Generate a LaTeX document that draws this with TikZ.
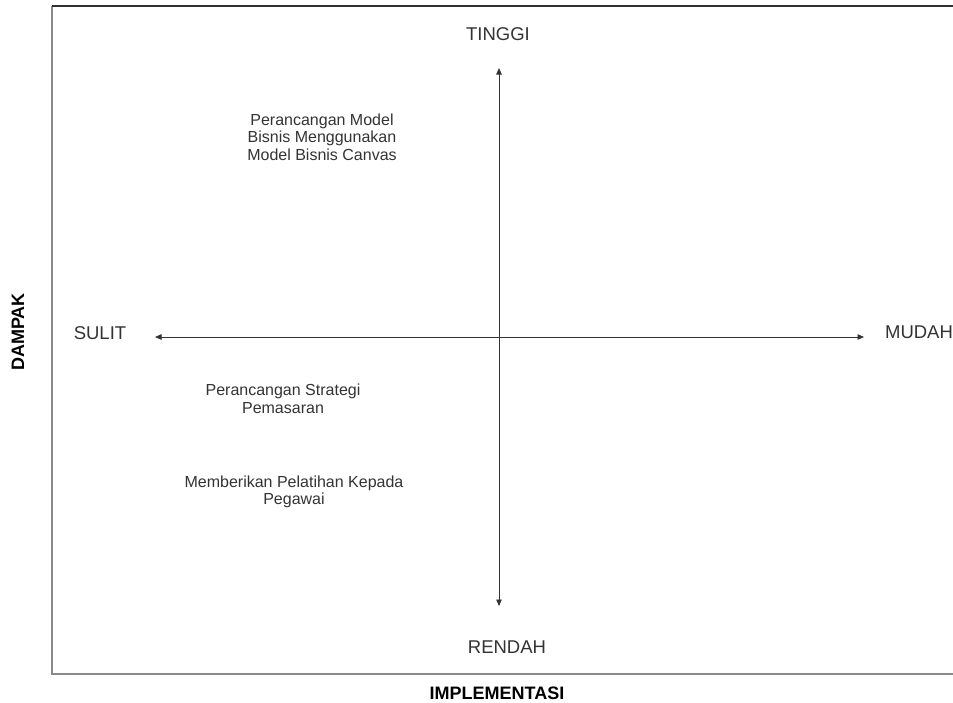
\documentclass[tikz,border=0pt]{standalone}
\usepackage{fontspec}
\setmainfont{Liberation Sans}
\usetikzlibrary{arrows.meta, positioning}
\usepackage{xcolor}
\definecolor{framegray}{HTML}{8A8A8A}
\definecolor{framedark}{HTML}{303030}
\definecolor{inkgray}{HTML}{333333}

\begin{document}
\begin{tikzpicture}[
    x=1pt, y=-1pt,
    axislabel/.style={font=\fontsize{18.5}{20}\selectfont, text=inkgray, inner sep=0pt},
    title/.style={font=\fontsize{18}{20}\selectfont\bfseries, inner sep=0pt},
    item/.style={font=\fontsize{16}{17.5}\selectfont, align=center, text=inkgray, inner sep=0pt},
    arr/.style={{Triangle[length=6.5pt,width=5.5pt]}-{Triangle[length=6.5pt,width=5.5pt]}, line width=0.8pt, inkgray},
]
\useasboundingbox (0,0) rectangle (953,702);

% frame
\draw[framegray, line width=1.5pt] (52,6) -- (52,674) -- (960,674);
\draw[framedark, line width=1.3pt] (52,6) -- (960,6);

% axis labels
\node[axislabel] (tinggi) at (498,34) {TINGGI};
\node[axislabel] (rendah) at (507,647) {RENDAH};
\node[axislabel] (sulit) at (100,333) {SULIT};
\node[axislabel] (mudah) at (919,332) {MUDAH};

\node[title] (impl) at (497,693) {IMPLEMENTASI};
\node[title, rotate=90] (dampak) at (18,332) {DAMPAK};

% axes
\coordinate (ytop) at (499,68);
\coordinate (ybot) at (499,606);
\coordinate (xleft) at (155,337);
\coordinate (xright) at (864,337);
\draw[arr] (ybot) -- (ytop);
\draw[arr] (xleft) -- (xright);

% items
\node[item] (bmc) at (322,137) {Perancangan Model\\Bisnis Menggunakan\\Model Bisnis Canvas};
\node[item] (strategi) at (283,399) {Perancangan Strategi\\Pemasaran};
\node[item] (pelatihan) at (294,492) {Memberikan Pelatihan Kepada\\Pegawai};

\end{tikzpicture}
\end{document}
